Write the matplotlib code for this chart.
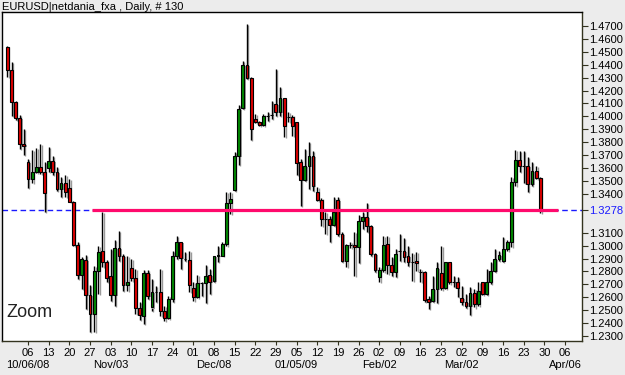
import matplotlib
matplotlib.use("Agg")
import matplotlib.pyplot as plt
import matplotlib.patheffects as pe
import matplotlib.transforms as mtransforms
import numpy as np

# EURUSD daily bars, 2008-09-29 .. 2009-03-27 (130 weekdays)
opens = [
    1.4535, 1.4362, 1.4114, 1.3985, 1.3789, 1.3650, 1.3516, 1.3573, 1.3611, 1.3567,
    1.3601, 1.3658, 1.3573, 1.3438, 1.3482, 1.3444, 1.3340, 1.3005, 1.2773, 1.2889,
    1.2618, 1.2471, 1.2806, 1.2959, 1.2871, 1.2768, 1.2618, 1.2982, 1.2922, 1.2695,
    1.2824, 1.2747, 1.2515, 1.2458, 1.2786, 1.2522, 1.2639, 1.2639, 1.2497, 1.2437,
    1.2587, 1.2917, 1.3026, 1.2897, 1.2889, 1.2670, 1.2600, 1.2708, 1.2708, 1.2773,
    1.2729, 1.2917, 1.2922, 1.3010, 1.3330, 1.3433, 1.3696, 1.4063, 1.4398, 1.4295,
    1.3980, 1.3954, 1.3934, 1.4006, 1.4014, 1.4096, 1.4032, 1.4140, 1.3998, 1.3998,
    1.3954, 1.3645, 1.3511, 1.3614, 1.3696, 1.3418, 1.3356, 1.3206, 1.3206, 1.3160,
    1.3356, 1.3090, 1.2884, 1.3005, 1.3005, 1.2987, 1.3193, 1.3219, 1.3155, 1.2935,
    1.2755, 1.2814, 1.3013, 1.2850, 1.2793, 1.2961, 1.2961, 1.2917, 1.2876, 1.2884,
    1.2799, 1.2799, 1.2587, 1.2574, 1.2664, 1.2788, 1.2670, 1.2871, 1.2721, 1.2716,
    1.2592, 1.2561, 1.2535, 1.2633, 1.2548, 1.2716, 1.2626, 1.2716, 1.2806, 1.2897,
    1.2884, 1.2974, 1.3026, 1.3490, 1.3665, 1.3619, 1.3619, 1.3477, 1.3580, 1.3524,
]
highs = [
    1.4543, 1.4419, 1.4122, 1.4011, 1.3903, 1.3671, 1.3740, 1.3753, 1.3787, 1.3650,
    1.3766, 1.3696, 1.3606, 1.3529, 1.3547, 1.3516, 1.3348, 1.3026, 1.2909, 1.2928,
    1.2695, 1.2840, 1.3000, 1.3258, 1.2889, 1.2974, 1.3046, 1.3116, 1.2935, 1.2922,
    1.2897, 1.2819, 1.2561, 1.2814, 1.2814, 1.2742, 1.2690, 1.2819, 1.2535, 1.2613,
    1.2961, 1.3077, 1.3031, 1.2953, 1.2961, 1.2716, 1.2773, 1.2716, 1.2850, 1.2819,
    1.2922, 1.3000, 1.3026, 1.3413, 1.3413, 1.3727, 1.4089, 1.4432, 1.4716, 1.4308,
    1.4019, 1.3967, 1.4019, 1.4032, 1.4122, 1.4367, 1.4225, 1.4140, 1.4032, 1.4011,
    1.3960, 1.3671, 1.3748, 1.3800, 1.3735, 1.3451, 1.3366, 1.3258, 1.3232, 1.3374,
    1.3374, 1.3103, 1.3013, 1.3026, 1.3103, 1.3237, 1.3258, 1.3330, 1.3160, 1.2943,
    1.2832, 1.3072, 1.3077, 1.2909, 1.2974, 1.3090, 1.3057, 1.3000, 1.2943, 1.2948,
    1.2819, 1.2806, 1.2613, 1.2768, 1.2876, 1.3000, 1.2876, 1.2876, 1.2768, 1.2755,
    1.2685, 1.2626, 1.2677, 1.2664, 1.2716, 1.2721, 1.2819, 1.2871, 1.2974, 1.2961,
    1.3064, 1.3046, 1.3529, 1.3743, 1.3735, 1.3735, 1.3683, 1.3645, 1.3619, 1.3529,
]
lows = [
    1.4303, 1.4006, 1.3975, 1.3748, 1.3702, 1.3444, 1.3482, 1.3562, 1.3554, 1.3258,
    1.3567, 1.3547, 1.3425, 1.3374, 1.3374, 1.3335, 1.3000, 1.2742, 1.2664, 1.2510,
    1.2334, 1.2334, 1.2626, 1.2832, 1.2716, 1.2574, 1.2535, 1.2884, 1.2651, 1.2651,
    1.2729, 1.2471, 1.2427, 1.2393, 1.2587, 1.2497, 1.2561, 1.2458, 1.2419, 1.2432,
    1.2561, 1.2897, 1.2819, 1.2884, 1.2644, 1.2574, 1.2592, 1.2613, 1.2553, 1.2626,
    1.2716, 1.2871, 1.2917, 1.3000, 1.3245, 1.3425, 1.3624, 1.4058, 1.4290, 1.3820,
    1.3949, 1.3923, 1.3929, 1.3967, 1.3980, 1.4006, 1.4006, 1.3838, 1.3960, 1.3846,
    1.3547, 1.3304, 1.3503, 1.3438, 1.3425, 1.3348, 1.3149, 1.3090, 1.3026, 1.3149,
    1.3077, 1.2871, 1.2832, 1.2979, 1.2768, 1.2866, 1.3129, 1.3103, 1.2917, 1.2793,
    1.2716, 1.2793, 1.2780, 1.2762, 1.2755, 1.2884, 1.2871, 1.2845, 1.2729, 1.2806,
    1.2716, 1.2561, 1.2510, 1.2561, 1.2556, 1.2659, 1.2664, 1.2703, 1.2677, 1.2600,
    1.2541, 1.2515, 1.2463, 1.2522, 1.2535, 1.2618, 1.2618, 1.2703, 1.2793, 1.2884,
    1.2871, 1.2961, 1.2987, 1.3464, 1.3567, 1.3485, 1.3413, 1.3459, 1.3516, 1.3253,
]
closes = [
    1.4362, 1.4114, 1.3985, 1.3787, 1.3774, 1.3516, 1.3573, 1.3611, 1.3567, 1.3407,
    1.3658, 1.3567, 1.3438, 1.3482, 1.3413, 1.3340, 1.3005, 1.2773, 1.2897, 1.2618,
    1.2471, 1.2806, 1.2953, 1.2871, 1.2750, 1.2618, 1.2982, 1.2922, 1.2695, 1.2716,
    1.2747, 1.2515, 1.2463, 1.2786, 1.2613, 1.2639, 1.2639, 1.2497, 1.2437, 1.2587,
    1.2917, 1.3026, 1.2902, 1.2897, 1.2695, 1.2600, 1.2708, 1.2708, 1.2768, 1.2716,
    1.2917, 1.2928, 1.3010, 1.3330, 1.3361, 1.3696, 1.4058, 1.4398, 1.4295, 1.3903,
    1.3954, 1.3934, 1.4006, 1.4006, 1.4014, 1.4032, 1.4140, 1.3929, 1.3998, 1.3929,
    1.3640, 1.3511, 1.3614, 1.3696, 1.3464, 1.3356, 1.3206, 1.3206, 1.3160, 1.3258,
    1.3090, 1.2884, 1.3005, 1.3005, 1.2987, 1.3193, 1.3219, 1.3155, 1.2935, 1.2814,
    1.2814, 1.3005, 1.2850, 1.2793, 1.2935, 1.2961, 1.2909, 1.2871, 1.2876, 1.2866,
    1.2799, 1.2582, 1.2566, 1.2664, 1.2824, 1.2670, 1.2871, 1.2716, 1.2721, 1.2670,
    1.2561, 1.2535, 1.2633, 1.2548, 1.2651, 1.2626, 1.2716, 1.2806, 1.2897, 1.2928,
    1.2974, 1.3031, 1.3490, 1.3665, 1.3619, 1.3619, 1.3477, 1.3580, 1.3524, 1.3278,
]

# weekly ticks (Mondays), bar index counted from 2008-09-29
week_ticks = list(range(5, 140, 5))
day_labels = ["06", "13", "20", "27", "03", "10", "17", "24", "01", "08", "15",
              "22", "29", "05", "12", "19", "26", "02", "09", "16", "23", "02",
              "09", "16", "23", "30", "06"]
month_ticks = [5, 25, 50, 70, 90, 110, 135]
month_labels = ["10/06/08", "Nov/03", "Dec/08", "01/05/09", "Feb/02", "Mar/02", "Apr/06"]

y_ticks = [1.23, 1.24, 1.25, 1.26, 1.27, 1.28, 1.29, 1.30, 1.31, 1.34, 1.35,
           1.36, 1.37, 1.38, 1.39, 1.40, 1.41, 1.42, 1.43, 1.44, 1.45, 1.46, 1.47]
last_price = 1.3278
drawn_level = 1.3278
drawn_span = [20.5, 133.3]

title = "EURUSD|netdania_fxa , Daily, # 130"

# style
plt.rcParams['font.family'] = ['Liberation Sans', 'DejaVu Sans']
up_col = '#008800'
dn_col = '#dd0000'
frame_col = '#33331f'

fig = plt.figure(figsize=(6.25, 3.75), dpi=100, facecolor='#ececec')
ax = fig.add_axes([0.0032, 0.0907, 0.928, 0.8773])
ax.set_facecolor('white')

n = len(opens)
x = np.arange(n)
o = np.array(opens)
h = np.array(highs)
l = np.array(lows)
c = np.array(closes)
up = c >= o

shadow_line = [pe.SimpleLineShadow(offset=(1.0, -0.8), shadow_color='#9a9a9a', alpha=1.0), pe.Normal()]
shadow_patch = [pe.SimplePatchShadow(offset=(1.0, -0.8), shadow_rgbFace='#9a9a9a', alpha=1.0), pe.Normal()]

# wicks
wk = ax.vlines(x, l, h, colors='black', linewidth=1.0, zorder=2)
wk.set_path_effects(shadow_line)

# bodies
bottoms = np.minimum(o, c)
heights = np.abs(c - o)
bars = ax.bar(x, heights, bottom=bottoms, width=0.68,
              color=np.where(up, up_col, dn_col), edgecolor='black',
              linewidth=0.8, zorder=3)
for b in bars:
    b.set_path_effects(shadow_patch)

# last price dashed line and drawn horizontal line
ax.axhline(last_price, xmin=0.0, xmax=1.0, color='#1a1aff', lw=1.0,
           dashes=(4, 2.5), zorder=1)
ax.hlines(drawn_level, drawn_span[0], drawn_span[1], color='#ff0a6c',
          lw=2.3, zorder=4)

ax.text(0.008, 0.06, "Zoom", transform=ax.transAxes, fontsize=13,
        color='#222222', ha='left', va='bottom')

ax.set_xlim(-1.3, 139.1)
ax.set_ylim(1.2262, 1.4808)

# y axis on the right
ax.yaxis.tick_right()
ax.set_yticks(y_ticks + [last_price])
ylabels = ["%.4f" % v for v in y_ticks] + ["%.4f" % last_price]
ax.set_yticklabels(ylabels)
ax.tick_params(axis='y', direction='out', length=4, width=0.8, pad=1,
               labelsize=8, colors=frame_col, labelcolor='black')
ylab = ax.get_yticklabels()
ylab[-1].set_color('#1a1aff')
ax.get_yticklines()[-1].set_color('#1a1aff')

# x axis: day numbers, month labels on a second row
ax.set_xticks(week_ticks)
ax.set_xticklabels(day_labels)
ax.tick_params(axis='x', direction='out', length=3, width=0.8, pad=2,
               labelsize=8, colors=frame_col, labelcolor='black')
trans = mtransforms.blended_transform_factory(ax.transData, ax.transAxes)
for t, lab in zip(month_ticks, month_labels):
    ax.text(t, -0.073, lab, transform=trans, fontsize=8, ha='center',
            va='center', color='black', clip_on=False)

for side in ['left', 'top']:
    ax.spines[side].set_color('black')
    ax.spines[side].set_linewidth(1.0)
for side in ['right', 'bottom']:
    ax.spines[side].set_color(frame_col)
    ax.spines[side].set_linewidth(1.0)

fig.text(0.003, 0.982, title, fontsize=8, ha='left', va='center', color='black')

fig.savefig("out.png", dpi=100, facecolor=fig.get_facecolor())
